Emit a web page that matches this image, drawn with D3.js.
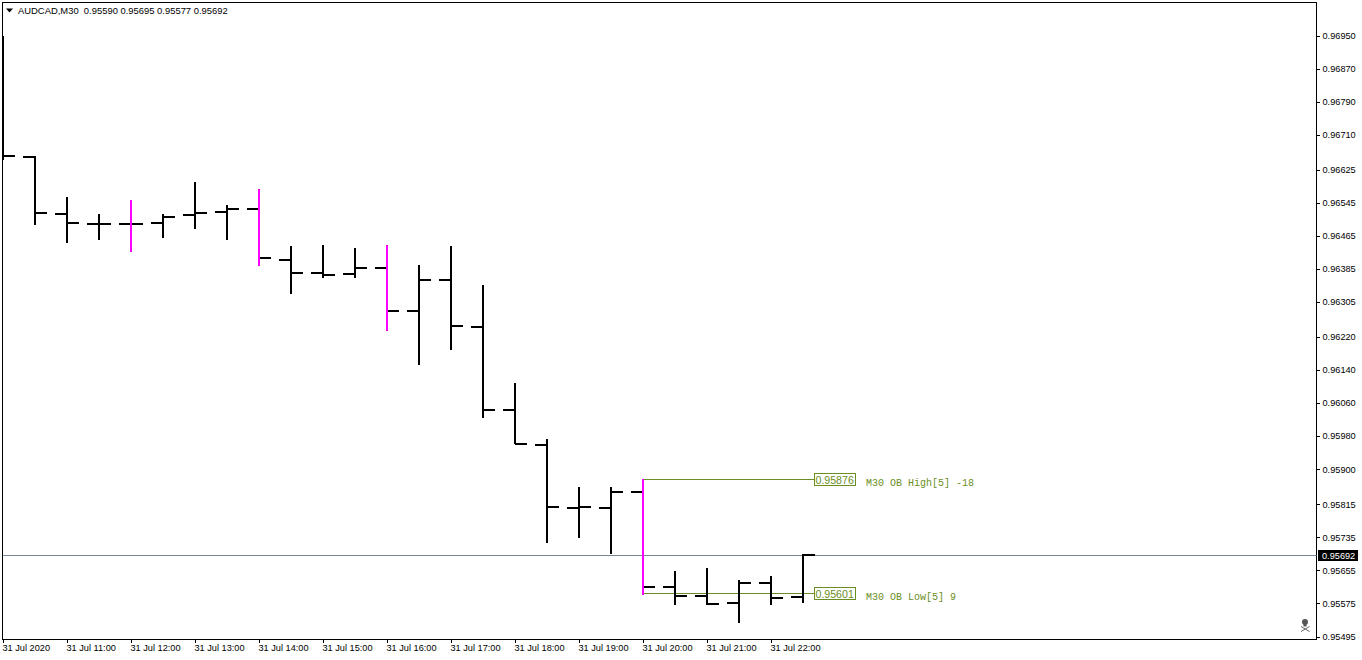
<!DOCTYPE html>
<html><head><meta charset="utf-8">
<script src="https://cdn.jsdelivr.net/npm/d3@7"></script>
<style>
html,body{margin:0;padding:0;background:#fff;overflow:hidden}
svg{display:block}
.ax text{font-family:"Liberation Sans",sans-serif;fill:#000}
.yax text{font-size:9.2px}
.xax text{font-size:9.2px}
</style></head><body>
<svg id="c" width="1362" height="660"></svg>
<script>
const symbol = "AUDCAD,M30";
const barTimes = ["10:00","10:30","11:00","11:30","12:00","12:30","13:00","13:30","14:00","14:30","15:00","15:30","16:00","16:30","17:00","17:30","18:00","18:30","19:00","19:30","20:00","20:30","21:00","21:30","22:00","22:30"];
const opens  = [0.96900,0.96656,0.96519,0.96495,0.96495,0.96498,0.96517,0.96524,0.96532,0.96408,0.96376,0.96374,0.96389,0.96284,0.96360,0.96246,0.96045,0.95960,0.95806,0.95806,0.95846,0.95616,0.95593,0.95576,0.95625,0.95590];
const highs  = [0.96950,0.96659,0.96560,0.96519,0.96553,0.96519,0.96596,0.96541,0.96579,0.96441,0.96444,0.96436,0.96444,0.96395,0.96441,0.96347,0.96109,0.95973,0.95857,0.95857,0.95876,0.95654,0.95661,0.95632,0.95642,0.95695];
const lows   = [0.96650,0.96492,0.96448,0.96456,0.96427,0.96461,0.96483,0.96456,0.96393,0.96326,0.96364,0.96364,0.96236,0.96153,0.96190,0.96025,0.95961,0.95722,0.95734,0.95696,0.95596,0.95572,0.95572,0.95528,0.95572,0.95577];
const closes = [0.96659,0.96521,0.96498,0.96495,0.96495,0.96512,0.96522,0.96532,0.96413,0.96376,0.96372,0.96389,0.96284,0.96360,0.96248,0.96045,0.95962,0.95809,0.95809,0.95846,0.95616,0.95593,0.95574,0.95625,0.95589,0.95692];
const flaggedBars = [4,8,12,20];
const priceTicks = [0.96950,0.96870,0.96790,0.96710,0.96625,0.96545,0.96465,0.96385,0.96305,0.96220,0.96140,0.96060,0.95980,0.95900,0.95815,0.95735,0.95655,0.95575,0.95495];
const timeTickBars = [0,2,4,6,8,10,12,14,16,18,20,22,24];
const timeTickLabels = ["31 Jul 2020","31 Jul 11:00","31 Jul 12:00","31 Jul 13:00","31 Jul 14:00","31 Jul 15:00","31 Jul 16:00","31 Jul 17:00","31 Jul 18:00","31 Jul 19:00","31 Jul 20:00","31 Jul 21:00","31 Jul 22:00"];
const lastPrice = 0.95692;
const obStartBar = 20;
const obLevels = [0.95876,0.95601];
const obNames = ["M30 OB High[5] -18","M30 OB Low[5] 9"];

const svg = d3.select("#c");
const L=2.5,R=1316.5,T=2.5,B=639.5;
const x = d3.scaleLinear().domain([0,25]).range([3,803]);
const y = d3.scaleLinear().domain([0.96950,0.95495]).range([36,636.5]);
svg.append("defs").append("clipPath").attr("id","plot").append("rect")
   .attr("x",L).attr("y",T).attr("width",R-L).attr("height",B-T);

// frame
svg.append("rect").attr("x",L).attr("y",T).attr("width",R-L).attr("height",B-T)
   .attr("fill","#fff").attr("stroke","#000").attr("stroke-width",1).attr("shape-rendering","crispEdges");

const plot = svg.append("g").attr("clip-path","url(#plot)").attr("shape-rendering","crispEdges");
// last price line
plot.append("line").attr("x1",L).attr("x2",R).attr("y1",Math.round(y(lastPrice))+0.5).attr("y2",Math.round(y(lastPrice))+0.5)
    .attr("stroke","#778899").attr("stroke-width",1);

const obColor="#6b8e23";
// OB lines
plot.selectAll(".ob").data(obLevels).join("line").attr("class","ob")
    .attr("x1",x(obStartBar)).attr("x2",814)
    .attr("y1",d=>Math.round(y(d))+0.5).attr("y2",d=>Math.round(y(d))+0.5)
    .attr("stroke",obColor).attr("stroke-width",1);

// OHLC bars
const idx = d3.range(barTimes.length);
const col = i=>flaggedBars.includes(i)?"#ff00ff":"#000";
const bars = plot.selectAll(".bar").data(idx).join("g").attr("class","bar");
bars.append("line").attr("x1",i=>x(i)).attr("x2",i=>x(i)-12)
    .attr("y1",i=>Math.round(y(opens[i]))).attr("y2",i=>Math.round(y(opens[i])))
    .attr("stroke","#000").attr("stroke-width",2);
bars.append("line").attr("x1",i=>x(i)).attr("x2",i=>x(i)+12)
    .attr("y1",i=>Math.round(y(closes[i]))).attr("y2",i=>Math.round(y(closes[i])))
    .attr("stroke","#000").attr("stroke-width",2);
bars.append("line").attr("x1",i=>x(i)).attr("x2",i=>x(i))
    .attr("y1",i=>Math.round(y(highs[i]))).attr("y2",i=>Math.round(y(lows[i])))
    .attr("stroke",col).attr("stroke-width",2);

// OB boxes + labels
const boxes = svg.selectAll(".obbox").data(obLevels).join("g").attr("class","obbox");
boxes.append("rect").attr("x",814.5).attr("width",41).attr("height",12)
    .attr("y",d=>Math.round(y(d))-5.5)
    .attr("fill","#fff").attr("stroke",obColor).attr("shape-rendering","crispEdges");
boxes.append("text").attr("x",815.5).attr("y",d=>Math.round(y(d))+4.5)
    .attr("font-family","'Liberation Sans',sans-serif").attr("font-size",10.6).attr("fill",obColor)
    .text(d=>d.toFixed(5));
boxes.append("text").attr("x",866).attr("y",(d,i)=>Math.round(y(d))+7)
    .attr("font-family","'Liberation Mono',monospace").attr("font-size",10).attr("fill",obColor)
    .text((d,i)=>obNames[i]);

// axes
const yAxis = d3.axisRight(y).tickValues(priceTicks).tickFormat(d3.format(".5f")).tickSize(3).tickPadding(3);
const ga = svg.append("g").attr("class","ax yax").attr("transform",`translate(${R},0)`).call(yAxis);
ga.select(".domain").remove();
ga.selectAll("line").attr("shape-rendering","crispEdges");
ga.selectAll("text").attr("y",-0.3);

const xAxis = d3.axisBottom(x).tickValues(timeTickBars).tickFormat((d,i)=>timeTickLabels[i]).tickSize(3).tickPadding(2);
const gb = svg.append("g").attr("class","ax xax").attr("transform",`translate(0,${B})`).call(xAxis);
gb.select(".domain").remove();
gb.selectAll("line").attr("shape-rendering","crispEdges");
gb.selectAll("text").attr("text-anchor","start").attr("dx",-1);

// last price tag
const yl = Math.round(y(lastPrice));
svg.append("rect").attr("x",1318).attr("y",yl-5).attr("width",40).attr("height",11).attr("fill","#000");
svg.append("text").attr("x",1322).attr("y",yl+4).attr("font-family","'Liberation Sans',sans-serif").attr("font-size",9.2).attr("fill","#fff").text(lastPrice.toFixed(5));

// header
svg.append("path").attr("d",d3.line()([[6,8.5],[13,8.5],[9.5,12.5]])+"Z").attr("fill","#000");
svg.append("text").attr("x",18).attr("y",14).attr("font-family","'Liberation Sans',sans-serif").attr("font-size",9.42).attr("fill","#000")
   .style("white-space","pre")
   .text(`${symbol}  ${opens[25].toFixed(5)} ${highs[25].toFixed(5)} ${d3.min(lows.slice(25)).toFixed(5)} ${closes[25].toFixed(5)}`);

// skull marker
const skull = svg.append("g").attr("stroke","#666").attr("fill","#555");
skull.append("circle").attr("cx",1305).attr("cy",622).attr("r",3).attr("stroke","none");
skull.append("rect").attr("x",1303.5).attr("y",624).attr("width",3).attr("height",2.5).attr("stroke","none");
skull.append("line").attr("x1",1301).attr("y1",626.5).attr("x2",1309.5).attr("y2",631.5).attr("stroke-width",1);
skull.append("line").attr("x1",1309.5).attr("y1",626.5).attr("x2",1301).attr("y2",631.5).attr("stroke-width",1);
</script></body></html>
